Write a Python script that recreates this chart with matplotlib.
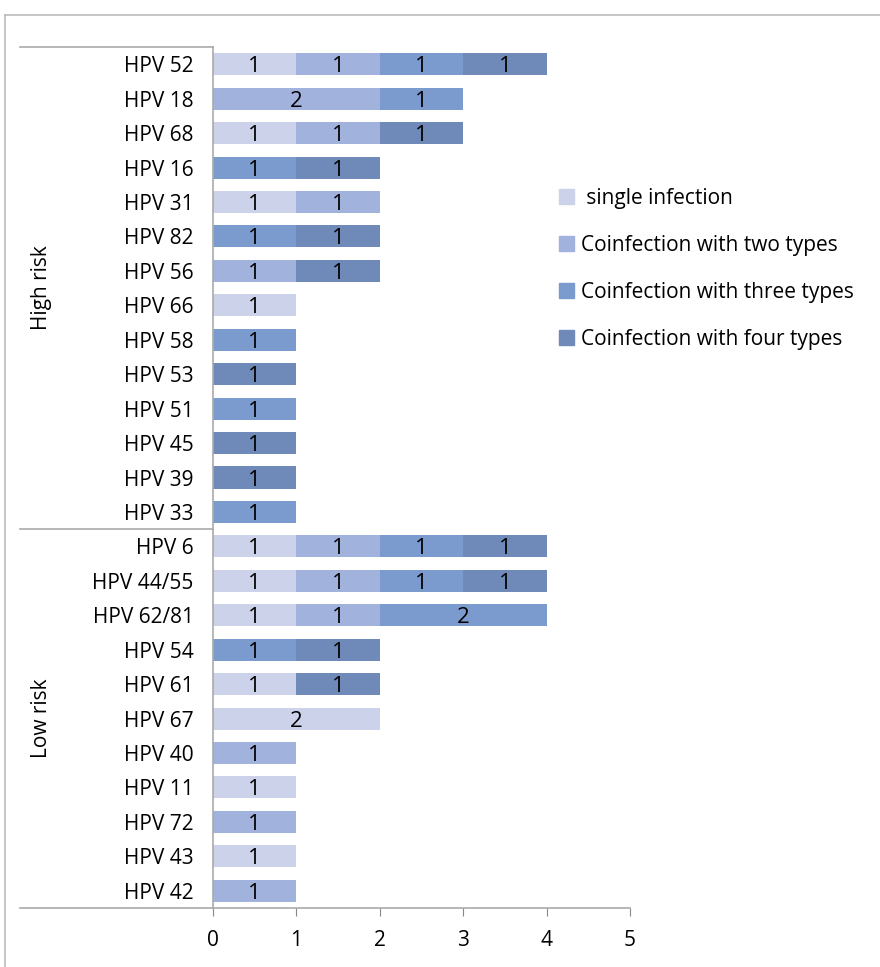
import numpy as np
import matplotlib.pyplot as plt
from matplotlib.lines import Line2D

plt.rcParams['font.family'] = ['Open Sans', 'DejaVu Sans']

types = ["HPV 52", "HPV 18", "HPV 68", "HPV 16", "HPV 31", "HPV 82", "HPV 56",
         "HPV 66", "HPV 58", "HPV 53", "HPV 51", "HPV 45", "HPV 39", "HPV 33",
         "HPV 6", "HPV 44/55", "HPV 62/81", "HPV 54", "HPV 61", "HPV 67",
         "HPV 40", "HPV 11", "HPV 72", "HPV 43", "HPV 42"]

single = [1, 0, 1, 0, 1, 0, 0, 1, 0, 0, 0, 0, 0, 0,
          1, 1, 1, 0, 1, 2, 0, 1, 0, 1, 0]
two = [1, 2, 1, 0, 1, 0, 1, 0, 0, 0, 0, 0, 0, 0,
       1, 1, 1, 0, 0, 0, 1, 0, 1, 0, 1]
three = [1, 1, 0, 1, 0, 1, 0, 0, 1, 0, 1, 0, 0, 1,
         1, 1, 2, 1, 0, 0, 0, 0, 0, 0, 0]
four = [1, 0, 1, 1, 0, 1, 1, 0, 0, 1, 0, 1, 1, 0,
        1, 1, 0, 1, 1, 0, 0, 0, 0, 0, 0]

series_names = [" single infection", "Coinfection with two types",
                "Coinfection with three types", "Coinfection with four types"]
colors = ["#CBD2E9", "#A1B2DD", "#7B9BCF", "#6F89B8"]

groups = ["High risk", "Low risk"]
group_sizes = [14, 11]

W, H = 880, 967
fs = 15
fig = plt.figure(figsize=(W / 100, H / 100), dpi=100)
x0, x1, y0, y1 = 213, 630, 47, 908
ax = fig.add_axes([x0 / W, 1 - y1 / H, (x1 - x0) / W, (y1 - y0) / H])

y = np.arange(len(types))
left = np.zeros(len(types))
handles = []
for vals, col, name in zip([single, two, three, four], colors, series_names):
    vals = np.array(vals, dtype=float)
    bars = ax.barh(y, vals, left=left, height=0.64, color=col, edgecolor='none')
    for b, v in zip(bars, vals):
        if v > 0:
            ax.text(b.get_x() + b.get_width() / 2, b.get_y() + b.get_height() / 2,
                    f"{int(v)}", ha='center', va='center_baseline', fontsize=16, color='black')
    left += vals
    handles.append(plt.Rectangle((0, 0), 1, 1, color=col))

ax.set_xlim(0, 5)
ax.set_ylim(len(types) - 0.5, -0.5)
ax.set_xticks(range(6))
ax.set_yticks(y)
ax.set_yticklabels(types, fontsize=fs)
ax.tick_params(axis='y', length=0, pad=14)
ax.tick_params(axis='x', direction='out', length=6, color='#888888', labelsize=fs, pad=10)
for s in ['top', 'right']:
    ax.spines[s].set_visible(False)
for s in ['left', 'bottom']:
    ax.spines[s].set_color('#AAAAAA')
    ax.spines[s].set_linewidth(1.2)

# category group separators and labels
ext = (20 - x0) / (x1 - x0)
line_kw = dict(color='#AAAAAA', lw=1.2, clip_on=False, transform=ax.get_yaxis_transform())
ax.add_line(Line2D([ext, 0], [-0.5, -0.5], **line_kw))
start = -0.5
for name, n in zip(groups, group_sizes):
    end = start + n
    ax.add_line(Line2D([ext, 0], [end, end], **line_kw))
    ax.text((42 - x0) / (x1 - x0), (start + end) / 2, name, rotation=90,
            ha='center', va='center', fontsize=fs, transform=ax.get_yaxis_transform())
    start = end

# outer chart frame
fig.add_artist(Line2D([5 / W, 5 / W], [0, 1 - 15 / H], color='#BBBBBB', lw=1.2))
fig.add_artist(Line2D([5 / W, 1], [1 - 15 / H, 1 - 15 / H], color='#BBBBBB', lw=1.2))

fig.legend(handles, series_names, loc='upper left', bbox_to_anchor=(540 / W, 1 - 169 / H),
           frameon=False, fontsize=fs, handlelength=0.75, handleheight=0.7,
           handletextpad=0.3, labelspacing=1.25)

fig.savefig("out.png", dpi=100)
